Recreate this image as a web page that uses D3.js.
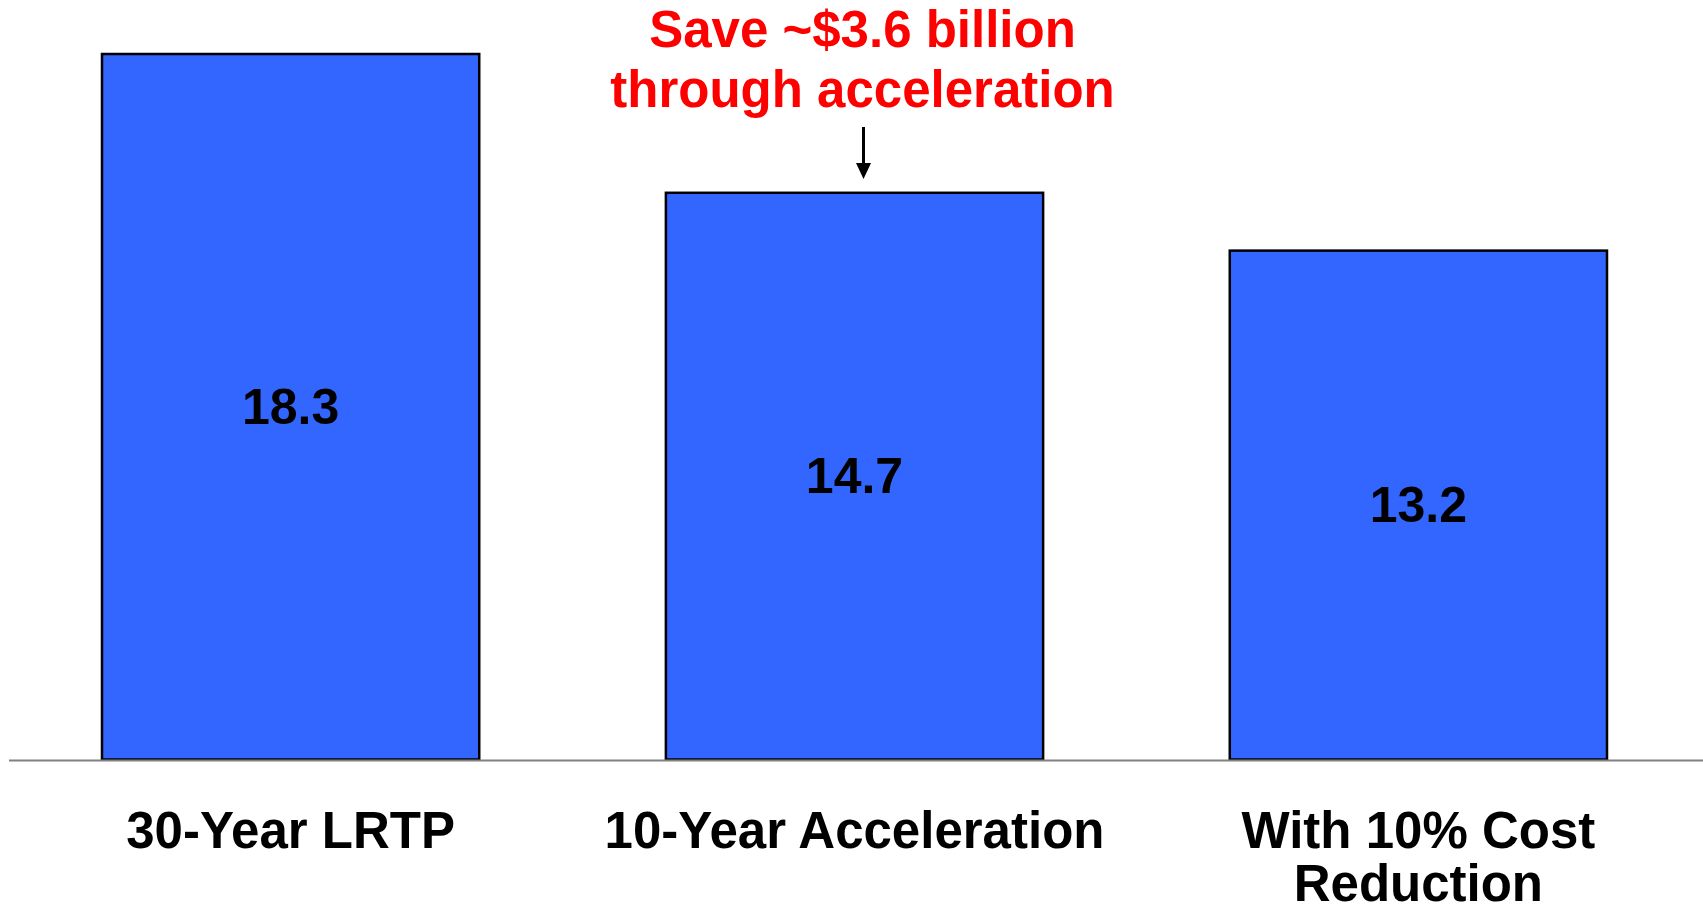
<!DOCTYPE html>
<html>
<head>
<meta charset="utf-8">
<script src="https://cdn.jsdelivr.net/npm/d3@7"></script>
<style>
  html, body { margin: 0; padding: 0; background: #ffffff; }
  svg { display: block; }
  text { font-family: "Liberation Sans", Arial, Helvetica, sans-serif; font-weight: bold; }
</style>
</head>
<body>
<svg id="chart" width="1703" height="913"></svg>
<script>
const categories = ["30-Year LRTP", "10-Year Acceleration", "With 10% Cost Reduction"];
const categoryLines = [["30-Year LRTP"], ["10-Year Acceleration"], ["With 10% Cost", "Reduction"]];
const values = [18.3, 14.7, 13.2];
const valueLabels = ["18.3", "14.7", "13.2"];
const annotationLines = ["Save ~$3.6 billion", "through acceleration"];

const W = 1703, H = 913;
const svg = d3.select("#chart");

const x = d3.scaleBand()
  .domain(categories)
  .range([102, 1607])
  .paddingInner(0.331)
  .paddingOuter(0);

const y = d3.scaleLinear()
  .domain([0, 18.3])
  .range([759.5, 54]);

// bars
svg.append("g").selectAll("rect")
  .data(categories)
  .join("rect")
  .attr("x", d => x(d))
  .attr("y", (d, i) => y(values[i]))
  .attr("width", x.bandwidth())
  .attr("height", (d, i) => y(0) - y(values[i]))
  .attr("fill", "#3366FF")
  .attr("stroke", "#000000")
  .attr("stroke-width", 2.5);

// baseline axis
const xAxis = d3.axisBottom(x).tickSize(0).tickFormat("");
const axisG = svg.append("g")
  .attr("transform", `translate(0,${y(0) + 1})`)
  .call(xAxis);
axisG.select(".domain").remove();
axisG.append("line")
  .attr("x1", 9).attr("x2", W)
  .attr("y1", 0).attr("y2", 0)
  .attr("stroke", "#808080")
  .attr("stroke-width", 2);

// value labels
svg.append("g").selectAll("text")
  .data(categories)
  .join("text")
  .attr("x", d => x(d) + x.bandwidth() / 2)
  .attr("y", (d, i) => (y(values[i]) + y(0)) / 2 + 17)
  .attr("text-anchor", "middle")
  .attr("font-size", 50)
  .attr("fill", "#000000")
  .text((d, i) => valueLabels[i]);

// category labels
const catG = svg.append("g").selectAll("text")
  .data(categories)
  .join("text")
  .attr("x", d => x(d) + x.bandwidth() / 2)
  .attr("y", 848)
  .attr("text-anchor", "middle")
  .attr("font-size", 51)
  .attr("fill", "#000000");
catG.each(function(d, i) {
  const t = d3.select(this);
  categoryLines[i].forEach((line, j) => {
    t.append("tspan")
      .attr("x", x(d) + x.bandwidth() / 2)
      .attr("dy", j === 0 ? 0 : 53)
      .text(line);
  });
});

// annotation
const annX = x(categories[1]) + x.bandwidth() / 2 + 8;
const ann = svg.append("text")
  .attr("x", annX)
  .attr("y", 47)
  .attr("text-anchor", "middle")
  .attr("font-size", 51)
  .attr("fill", "#FF0000");
annotationLines.forEach((line, j) => {
  ann.append("tspan")
    .attr("x", annX)
    .attr("dy", j === 0 ? 0 : 60)
    .text(line);
});

// arrow
svg.append("line")
  .attr("x1", annX + 1).attr("x2", annX + 1)
  .attr("y1", 127).attr("y2", 165)
  .attr("stroke", "#000000")
  .attr("stroke-width", 3);
svg.append("path")
  .attr("d", `M${annX + 1 - 7.5},163 L${annX + 1 + 7.5},163 L${annX + 1},179 Z`)
  .attr("fill", "#000000");
</script>
</body>
</html>
